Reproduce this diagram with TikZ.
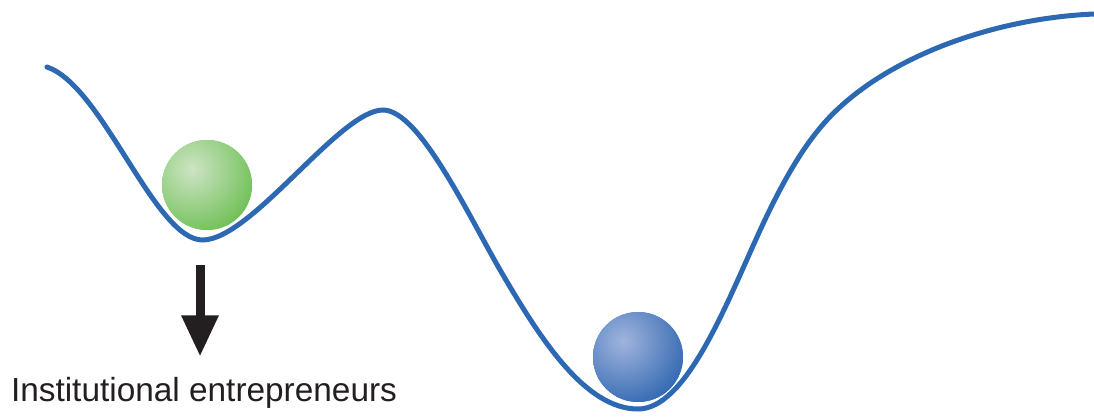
\documentclass[tikz,border=0pt]{standalone}
\usepackage{fontspec}
\setmainfont{Liberation Sans}
\usetikzlibrary{arrows.meta}
\definecolor{curveblue}{RGB}{45,104,178}
\definecolor{ballgreen}{RGB}{108,191,82}
\definecolor{ballgreenhi}{RGB}{205,228,196}
\definecolor{ballblue}{RGB}{47,102,176}
\definecolor{ballbluehi}{RGB}{160,180,222}
\definecolor{inkblack}{RGB}{35,31,32}
\tikzset{
  ball/.style 2 args={circle,minimum size=1.8cm,inner sep=0pt,fill=#1,
    path picture={\shade[inner color=#2,outer color=#1]
      ([shift={(-0.3cm,0.32cm)}]path picture bounding box.center) circle (1.4cm);}}
}

\begin{document}
\begin{tikzpicture}[x=0.02cm,y=-0.02cm]
  \useasboundingbox (0,0) rectangle (1094,416);
  % landscape with two valleys
  \draw[curveblue,line width=0.1cm,line cap=round]
    (47,67) .. controls (103,86) and (155,241) .. (203,240)
    .. controls (252,239) and (340,110) .. (383,110)
    .. controls (420,110) and (470,219) .. (503,275)
    .. controls (540,338) and (585,409) .. (638,409)
    .. controls (685,409) and (724,310) .. (757,237)
    .. controls (785,175) and (810,134) .. (840,107)
    .. controls (900,52) and (1000,18) .. (1094,14);
  % balls
  \node[ball={ballgreen}{ballgreenhi}] (shallow) at (207,185) {};
  \node[ball={ballblue}{ballbluehi}] (deep) at (638,357) {};
  % label and arrow
  \node[anchor=base,inner sep=0pt,text=inkblack,font=\fontsize{19}{21}\selectfont]
    (entre) at (204,401) {Institutional entrepreneurs};
  \coordinate (tail) at (200,265);
  \draw[inkblack,line width=0.18cm,-{Triangle[width=0.7cm,length=0.82cm]},shorten >=0.4cm]
    (tail) -- (tail |- entre.north);
\end{tikzpicture}
\end{document}
